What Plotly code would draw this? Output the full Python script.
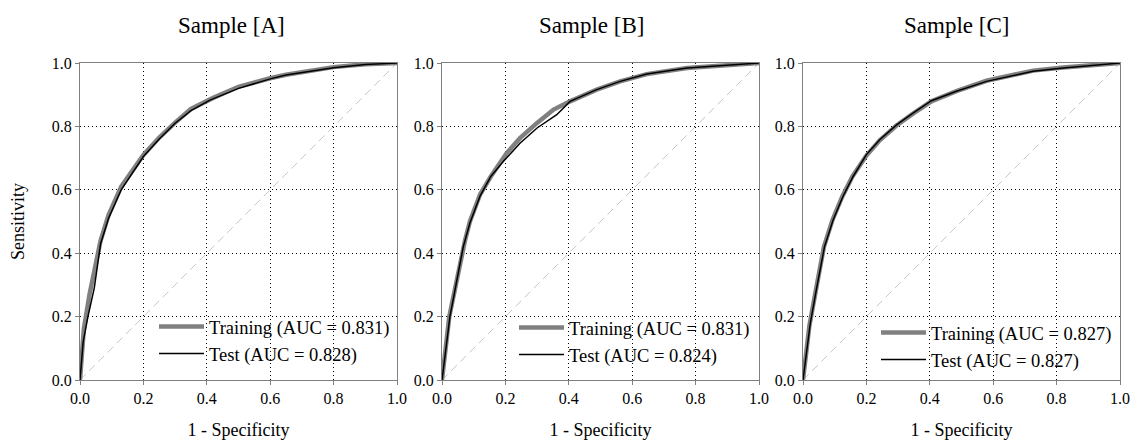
import plotly.graph_objects as go

# ---------------- data ----------------
panel_titles = ["Sample [A]", "Sample [B]", "Sample [C]"]
train_labels = ["Training (AUC = 0.831)", "Training (AUC = 0.831)", "Training (AUC = 0.827)"]
test_labels = ["Test (AUC = 0.828)", "Test (AUC = 0.824)", "Test (AUC = 0.827)"]

a_train_fpr = [0, 0.012, 0.03, 0.05, 0.065, 0.09, 0.13, 0.2, 0.25, 0.3, 0.35, 0.42, 0.5, 0.6, 0.65, 0.8, 0.9, 1.0]
a_train_tpr = [0, 0.16, 0.27, 0.36, 0.44, 0.52, 0.61, 0.71, 0.765, 0.812, 0.855, 0.89, 0.925, 0.952, 0.963, 0.987, 0.996, 1.0]
a_test_fpr = [0, 0.01, 0.025, 0.045, 0.065, 0.09, 0.13, 0.2, 0.25, 0.3, 0.35, 0.41, 0.5, 0.6, 0.65, 0.8, 0.9, 1.0]
a_test_tpr = [0, 0.12, 0.20, 0.29, 0.43, 0.51, 0.60, 0.705, 0.76, 0.81, 0.85, 0.883, 0.92, 0.95, 0.962, 0.985, 0.995, 1.0]

b_train_fpr = [0, 0.023, 0.073, 0.088, 0.12, 0.154, 0.204, 0.246, 0.3, 0.352, 0.404, 0.488, 0.562, 0.646, 0.773, 0.878, 1.0]
b_train_tpr = [0, 0.20, 0.442, 0.50, 0.585, 0.642, 0.716, 0.763, 0.811, 0.853, 0.879, 0.916, 0.942, 0.965, 0.984, 0.992, 1.0]
b_test_fpr = [0, 0.025, 0.067, 0.088, 0.12, 0.154, 0.194, 0.246, 0.3, 0.362, 0.404, 0.488, 0.562, 0.646, 0.773, 0.878, 1.0]
b_test_tpr = [0, 0.20, 0.42, 0.495, 0.58, 0.642, 0.69, 0.747, 0.795, 0.837, 0.879, 0.916, 0.942, 0.965, 0.984, 0.992, 1.0]

c_train_fpr = [0, 0.02, 0.04, 0.066, 0.093, 0.124, 0.156, 0.2, 0.242, 0.295, 0.347, 0.405, 0.484, 0.579, 0.726, 0.821, 1.0]
c_train_tpr = [0, 0.17, 0.28, 0.42, 0.505, 0.579, 0.642, 0.708, 0.756, 0.803, 0.840, 0.879, 0.911, 0.944, 0.976, 0.986, 1.0]
c_test_fpr = [0, 0.023, 0.042, 0.068, 0.095, 0.126, 0.158, 0.2, 0.242, 0.295, 0.347, 0.405, 0.484, 0.579, 0.726, 0.821, 1.0]
c_test_tpr = [0, 0.179, 0.284, 0.421, 0.505, 0.579, 0.642, 0.711, 0.758, 0.805, 0.842, 0.881, 0.911, 0.942, 0.974, 0.984, 1.0]

diag = [0, 1]
tick_vals = [0, 0.2, 0.4, 0.6, 0.8, 1.0]
tick_text = ["0.0", "0.2", "0.4", "0.6", "0.8", "1.0"]

panels = [
    (a_train_fpr, a_train_tpr, a_test_fpr, a_test_tpr),
    (b_train_fpr, b_train_tpr, b_test_fpr, b_test_tpr),
    (c_train_fpr, c_train_tpr, c_test_fpr, c_test_tpr),
]

# ---------------- figure ----------------
FONT = '"Liberation Serif", "Times New Roman", Times, serif'
W, H = 1134, 440
ML, MR, MT, MB = 80, 14, 63, 60
PW = W - ML - MR
domains = [(80, 397), (442, 759), (803, 1120)]
title_cx = [231, 591, 956]
legend_x = [154, 514, 876]
legend_y = [308, 309, 314]

fig = go.Figure()
for i, (trf, trt, tef, tet) in enumerate(panels):
    n = "" if i == 0 else str(i + 1)
    xa, ya = "x" + n, "y" + n
    lg = "legend" + n
    fig.add_trace(go.Scatter(x=diag, y=diag, mode="lines", xaxis=xa, yaxis=ya,
                             line=dict(color="#c8c8c8", width=1, dash="8px,5px"),
                             showlegend=False, hoverinfo="skip"))
    fig.add_trace(go.Scatter(x=trf, y=trt, mode="lines", xaxis=xa, yaxis=ya,
                             name=train_labels[i], legend=lg,
                             line=dict(color="#808080", width=4.5)))
    fig.add_trace(go.Scatter(x=tef, y=tet, mode="lines", xaxis=xa, yaxis=ya,
                             name=test_labels[i], legend=lg,
                             line=dict(color="#000000", width=1.5)))

    d0, d1 = domains[i]
    axcommon = dict(range=[0, 1], tickvals=tick_vals, ticktext=tick_text,
                    showline=True, linecolor="#808080", linewidth=1, mirror=True,
                    ticks="outside", ticklen=4, tickcolor="#808080",
                    showgrid=True, gridcolor="#000000", gridwidth=1, griddash="1px,3px",
                    zeroline=False, fixedrange=True, automargin=False,
                    tickfont=dict(family=FONT, size=16, color="#000000"))
    fig.layout["xaxis" + n] = dict(axcommon, domain=[(d0 - ML) / PW, (d1 - ML) / PW],
                                   anchor=ya,
                                   title=dict(text="1 - Specificity", standoff=18,
                                              font=dict(family=FONT, size=18, color="#000000")))
    fig.layout["yaxis" + n] = dict(axcommon, domain=[0, 1], anchor=xa,
                                   title=dict(text="Sensitivity" if i == 0 else "",
                                              standoff=22,
                                              font=dict(family=FONT, size=18, color="#000000")))
    fig.layout[lg] = dict(x=(legend_x[i] - ML) / PW, y=(H - MB - legend_y[i]) / (H - MT - MB),
                          xanchor="left", yanchor="top", bgcolor="rgba(0,0,0,0)",
                          borderwidth=0, tracegroupgap=0, itemwidth=45,
                          font=dict(family=FONT, size=18.5, color="#000000"))
    fig.add_annotation(text=panel_titles[i], xref="paper", yref="paper",
                       x=(title_cx[i] - ML) / PW, xanchor="center",
                       y=1, yshift=23, yanchor="bottom",
                       showarrow=False, font=dict(family=FONT, size=23, color="#000000"))

fig.update_layout(width=W, height=H, margin=dict(l=ML, r=MR, t=MT, b=MB, autoexpand=False),
                  plot_bgcolor="white", paper_bgcolor="white",
                  font=dict(family=FONT, color="#000000"), showlegend=True)

fig.write_html("out.html", config={"displayModeBar": False},
               post_script="document.body.style.margin='0';document.body.style.overflow='hidden';")
